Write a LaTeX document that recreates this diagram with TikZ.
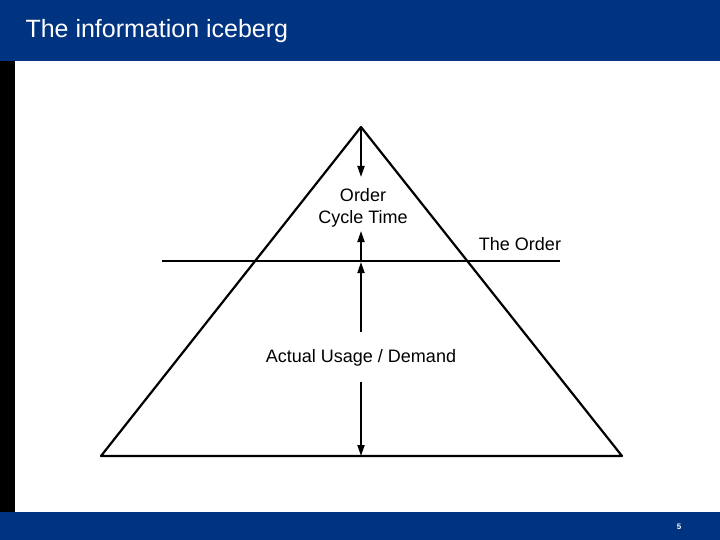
\documentclass[tikz,border=0pt]{standalone}
\usepackage{fontspec}
\setmainfont{Liberation Sans}
\usetikzlibrary{arrows.meta,positioning}
\definecolor{barblue}{RGB}{0,51,128}
\tikzstyle{link} = [line width=2.2pt, line join=round, -]
\tikzstyle{arrow} = [line width=1.8pt, -{Triangle[length=11pt,width=7pt]}]
\tikzstyle{lbl} = [font=\fontsize{18}{22}\selectfont, align=center, inner sep=0pt]
\begin{document}
\begin{tikzpicture}[x=1pt,y=-1pt]
\useasboundingbox (0,0) rectangle (720,540);
% frame
\fill[barblue] (0,0) rectangle (720,61);
\fill[barblue] (0,512) rectangle (720,540);
\fill[black] (0,61) rectangle (15,512);
\node (title) [anchor=west, text=white, font=\fontsize{25}{29}\selectfont] at (22,31) {The information iceberg};
\node (page) [text=white, font=\bfseries\fontsize{8}{10}\selectfont] at (679,527) {5};
% iceberg
\coordinate (apex) at (361,127);
\coordinate (bl) at (101,456);
\coordinate (br) at (622,456);
\coordinate (wl) at (162,261);
\coordinate (wr) at (560,261);
\coordinate (wm) at (361,261);
\coordinate (bm) at (361,456);
\draw [link] (apex) -- (bl) -- (br) -- cycle;
\draw [line width=1.5pt] (wl) -- (wr);
\node (cycle) [lbl] at (363,208) {Order\\Cycle Time};
\node (order) [lbl] at (520,244) {The Order};
\node (usage) [lbl] at (361,358) {Actual Usage / Demand};
\coordinate (ctop) at (361,177);
\coordinate (cbot) at (361,231);
\coordinate (utop) at (361,332);
\coordinate (ubot) at (361,382);
\draw [arrow] (apex) -- (ctop);
\draw [arrow] (wm) -- (cbot);
\draw [arrow] (utop) -- (361,262);
\draw [arrow] (ubot) -- (bm);
\end{tikzpicture}
\end{document}
